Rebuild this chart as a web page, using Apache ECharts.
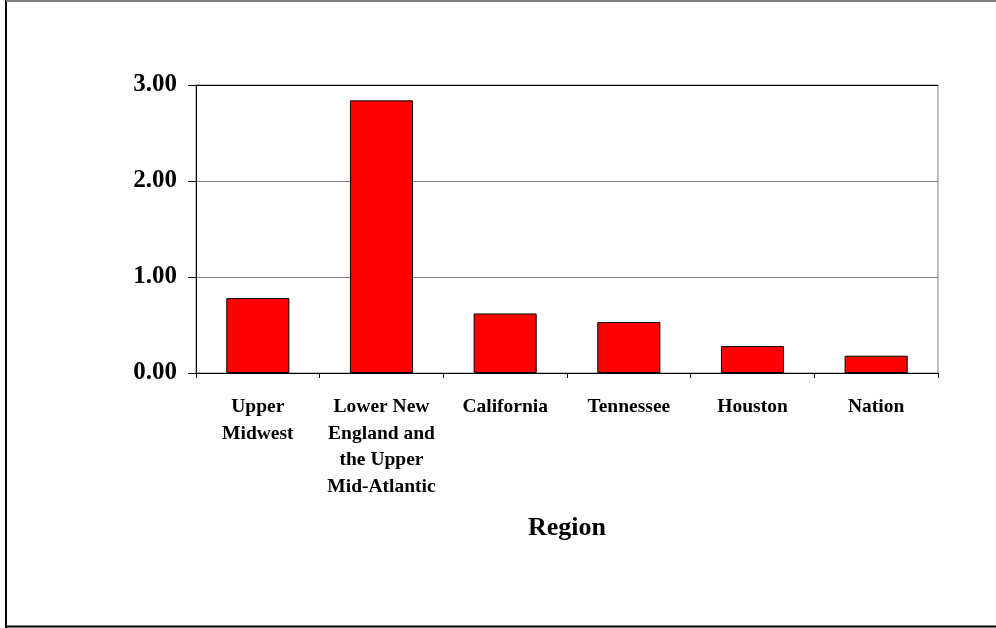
<!DOCTYPE html>
<html><head><meta charset="utf-8">
<script src="https://cdn.jsdelivr.net/npm/echarts@6/dist/echarts.min.js"></script>
<style>html,body{margin:0;padding:0;background:#fff}#c{width:996px;height:628px}</style>
</head><body><div id="c"></div>
<script>
const categories = ["Upper\nMidwest", "Lower New\nEngland and\nthe Upper\nMid-Atlantic", "California", "Tennessee", "Houston", "Nation"];
const values = [0.78, 2.84, 0.62, 0.53, 0.28, 0.18];
const yTicks = [0, 1, 2, 3];
const xAxisName = "Region";
const font = "'Liberation Serif','Times New Roman',serif";
const chart = echarts.init(document.getElementById('c'), null, {renderer: 'canvas'});
chart.setOption({
  animation: false,
  backgroundColor: '#fff',
  grid: {left: 196, right: 58, top: 85, bottom: 255, show: true, borderColor: '#808080', borderWidth: 1},
  xAxis: {
    type: 'category', data: categories,
    axisLine: {lineStyle: {color: '#000', width: 1}},
    axisTick: {show: true, length: 5, lineStyle: {color: '#000'}},
    axisLabel: {interval: 0, fontFamily: font, fontWeight: 'bold', fontSize: 19.5, color: '#000', lineHeight: 26.5, margin: 21},
    name: xAxisName, nameLocation: 'middle', nameGap: 142,
    nameTextStyle: {fontFamily: font, fontWeight: 'bold', fontSize: 26, color: '#000'}
  },
  yAxis: {
    type: 'value', min: yTicks[0], max: yTicks[yTicks.length - 1], interval: 1,
    axisLine: {show: true, lineStyle: {color: '#000'}},
    axisTick: {show: true, length: 8, lineStyle: {color: '#000'}},
    axisLabel: {formatter: v => v.toFixed(2), fontFamily: font, fontWeight: 'bold', fontSize: 25, color: '#000', margin: 19, padding: [6, 0, 0, 0]},
    splitLine: {show: true, lineStyle: {color: ['#000', '#808080', '#808080', '#000'], width: 1}}
  },
  series: [{
    type: 'bar', data: values, barWidth: '51%',
    itemStyle: {color: '#FF0000', borderColor: '#000', borderWidth: 1}
  }],
  graphic: [
    {type: 'line', shape: {x1: 6, y1: 0, x2: 6, y2: 628}, style: {stroke: '#000', lineWidth: 2}},
    {type: 'line', shape: {x1: 6, y1: 1, x2: 996, y2: 1}, style: {stroke: '#808080', lineWidth: 2}},
    {type: 'line', shape: {x1: 6, y1: 626.5, x2: 996, y2: 626.5}, style: {stroke: '#000', lineWidth: 2}}
  ]
});
</script></body></html>
